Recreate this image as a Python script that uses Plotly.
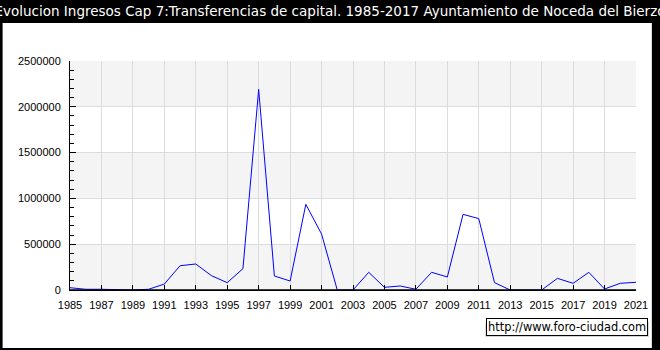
import plotly.graph_objects as go

years = list(range(1985, 2022))
values = [25000, 8000, 8000, 0, 0, 8000, 65000, 265000, 284000, 156000,
          80000, 233000, 2190000, 153000, 98000, 935000, 611000, 0, 0, 193000,
          29000, 44000, 8000, 193000, 142000, 826000, 779000, 80000, 0, 0,
          0, 127000, 73000, 193000, 11000, 73000, 84000]
title_text = "Evolucion Ingresos Cap 7:Transferencias de capital. 1985-2017 Ayuntamiento de Noceda del Bierzo"
watermark = "http://www.foro-ciudad.com"
x_ticks = list(range(1985, 2022, 2))
y_ticks = [0, 500000, 1000000, 1500000, 2000000, 2500000]
bands = [(0, 500000), (1000000, 1500000), (2000000, 2500000)]

W, H = 660, 350
L, R, T, B = 70, 19, 61, 60
pw, ph = W - L - R, H - T - B

def px(x):
    return (x - L) / pw

def py(y):
    return (H - B - y) / ph

fig = go.Figure()
fig.add_trace(go.Scatter(x=years, y=values, mode="lines",
                         line=dict(color="#0000ff", width=1), hoverinfo="skip"))

shapes = []
# white inner frame
shapes.append(dict(type="rect", xref="paper", yref="paper",
                   x0=px(2), x1=px(657), y0=py(348), y1=py(23),
                   fillcolor="white", line=dict(width=0), layer="below"))
for a, b in bands:
    shapes.append(dict(type="rect", xref="x domain", yref="y", x0=0, x1=1, y0=a, y1=b,
                       fillcolor="#f4f4f4", line=dict(width=0), layer="below"))
# x axis baseline drawn over the data
shapes.append(dict(type="line", xref="x domain", yref="y", x0=0, x1=1, y0=0, y1=0,
                   line=dict(color="black", width=1.5), layer="above"))
# watermark shadow
shapes.append(dict(type="rect", xref="paper", yref="paper",
                   x0=px(489), x1=px(654), y0=py(337), y1=py(322),
                   fillcolor="#d4d4d4", line=dict(width=0), layer="above"))
fig.update_layout(shapes=shapes)

fig.add_annotation(text=watermark, xref="paper", yref="paper",
                   x=px(653), y=py(327), xanchor="right", yanchor="middle",
                   showarrow=False, font=dict(family="DejaVu Sans", size=11.4, color="black"),
                   bgcolor="white", bordercolor="black", borderwidth=1, borderpad=1)

fig.update_layout(
    width=W, height=H,
    margin=dict(l=L, r=R, t=T, b=B, pad=0),
    paper_bgcolor="black",
    plot_bgcolor="rgba(0,0,0,0)",
    showlegend=False,
    title=dict(text=title_text, x=0.5, xanchor="center", xref="container",
               y=1 - 11 / H, yanchor="middle", yref="container",
               font=dict(family="DejaVu Sans", size=13.5, color="white")),
    xaxis=dict(range=[1985, 2021], tickvals=x_ticks, ticktext=[str(v) for v in x_ticks],
               ticks="inside", ticklen=5, tickcolor="black", showgrid=True,
               gridcolor="#dcdcdc", gridwidth=1, showline=True, linecolor="black",
               linewidth=1, zeroline=False, ticklabelstandoff=5,
               tickfont=dict(family="Liberation Sans", size=11, color="black")),
    yaxis=dict(range=[0, 2500000], tickvals=y_ticks, ticktext=[str(v) for v in y_ticks],
               ticks="inside", ticklen=6, tickcolor="black", showgrid=True,
               gridcolor="#dcdcdc", gridwidth=1, showline=True, linecolor="black",
               linewidth=1, zeroline=False, ticklabelstandoff=6,
               minor=dict(dtick=100000, ticks="inside", ticklen=4, tickcolor="black", showgrid=False),
               tickfont=dict(family="Liberation Sans", size=11, color="black")),
)

fig.write_html("out.html")
